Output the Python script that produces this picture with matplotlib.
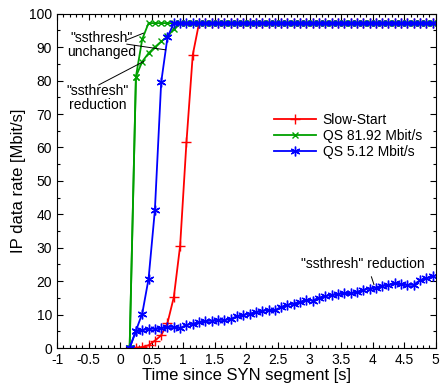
import matplotlib
matplotlib.use("Agg")
import matplotlib.pyplot as plt
from matplotlib.ticker import MultipleLocator

plt.rcParams['font.family'] = ['Liberation Sans', 'DejaVu Sans']

# sample times [s]
t_start = 0.15
n_points = 49
times = [round(t_start + 0.1 * k, 2) for k in range(n_points)]
plateau = 97.2

slow_start_rise = [0, 0.1, 0.3, 0.8, 2.2, 3.8, 7.5, 15.2, 30.6, 61.5, 87.7]
qs_8192_unchanged_rise = [0, 81.2, 92.4]
qs_8192_reduction_rise = [0, 81.2, 85.7, 88.2, 90.0, 91.7, 93.2, 95.5]
qs_512_unchanged_rise = [0, 5.2, 10.3, 20.7, 41.2, 79.5, 93.0]
qs_512_reduction = [0, 5.1, 5.4, 5.7, 5.8, 6.0, 6.3, 6.3, 6.0,
                    6.9, 7.3, 7.7, 8.0, 8.2, 8.5, 8.3, 8.7, 9.5, 9.9,
                    10.3, 10.7, 11.2, 11.3, 11.3, 12.3, 12.9, 13.3, 13.8, 14.4,
                    14.2, 15.1, 15.5, 15.9, 16.2, 16.4, 16.4, 16.8, 17.4, 17.8,
                    18.1, 18.7, 18.9, 19.4, 19.1, 18.9, 18.9, 20.3, 20.8, 21.6]


def fill_plateau(rise):
    return rise + [plateau] * (n_points - len(rise))


slow_start = fill_plateau(slow_start_rise)
qs_8192_unchanged = fill_plateau(qs_8192_unchanged_rise)
qs_8192_reduction = fill_plateau(qs_8192_reduction_rise)
qs_512_unchanged = fill_plateau(qs_512_unchanged_rise)

fig = plt.figure(figsize=(4.42, 3.86), dpi=100)
ax = fig.add_axes([0.129, 0.0984, 0.857, 0.866])

lw = 1.3
ax.plot(times, slow_start, color='red', marker='+', ms=7, lw=lw, label='Slow-Start')
ax.plot(times, qs_8192_unchanged, color='#00a000', marker='x', ms=5, lw=lw, label='QS 81.92 Mbit/s')
ax.plot(times, qs_8192_reduction, color='#00a000', marker='x', ms=5, lw=lw)
ax.plot(times, qs_512_unchanged, color='blue', marker=(6, 2, 0), ms=7, lw=lw, label='QS 5.12 Mbit/s')
ax.plot(times, qs_512_reduction, color='blue', marker=(6, 2, 0), ms=7, lw=lw)

ax.set_xlim(-1, 5)
ax.set_ylim(0, 100)
ax.xaxis.set_major_locator(MultipleLocator(0.5))
ax.xaxis.set_minor_locator(MultipleLocator(0.1))
ax.yaxis.set_major_locator(MultipleLocator(10))
ax.yaxis.set_minor_locator(MultipleLocator(5))
ax.set_xticklabels([])
ax.set_xticks([-1, -0.5, 0, 0.5, 1, 1.5, 2, 2.5, 3, 3.5, 4, 4.5, 5])
ax.set_xticklabels(['-1', '-0.5', '0', '0.5', '1', '1.5', '2', '2.5', '3', '3.5', '4', '4.5', '5'])
ax.tick_params(which='both', direction='in', top=True, right=True, labelsize=10)
ax.tick_params(which='major', length=4.5, width=0.8)
ax.tick_params(which='minor', length=2.5, width=0.8)

ax.set_xlabel('Time since SYN segment [s]', fontsize=12, labelpad=1)
ax.set_ylabel('IP data rate [Mbit/s]', fontsize=12, labelpad=2)

leg = ax.legend(loc='upper left', bbox_to_anchor=(0.54, 0.74), frameon=False,
                fontsize=10, handlelength=3.0, labelspacing=0.15, handletextpad=0.5)

# annotations
ax.text(-0.29, 90.7, '"ssthresh"\nunchanged', ha='center', va='center', fontsize=10, linespacing=1.0)
ax.plot([0.106, 0.37], [92.2, 94.2], color='black', lw=0.7)
ax.plot([0.106, 0.72], [90.9, 89.2], color='black', lw=0.7)
ax.text(-0.36, 74.8, '"ssthresh"\nreduction', ha='center', va='center', fontsize=10, linespacing=1.0)
ax.plot([-0.34, 0.37], [78.7, 85.7], color='black', lw=0.7)
ax.text(3.85, 25.2, '"ssthresh" reduction', ha='center', va='center', fontsize=10)
ax.plot([3.98, 4.02], [21.3, 19.0], color='black', lw=0.7)

fig.savefig('out.png', dpi=100)
